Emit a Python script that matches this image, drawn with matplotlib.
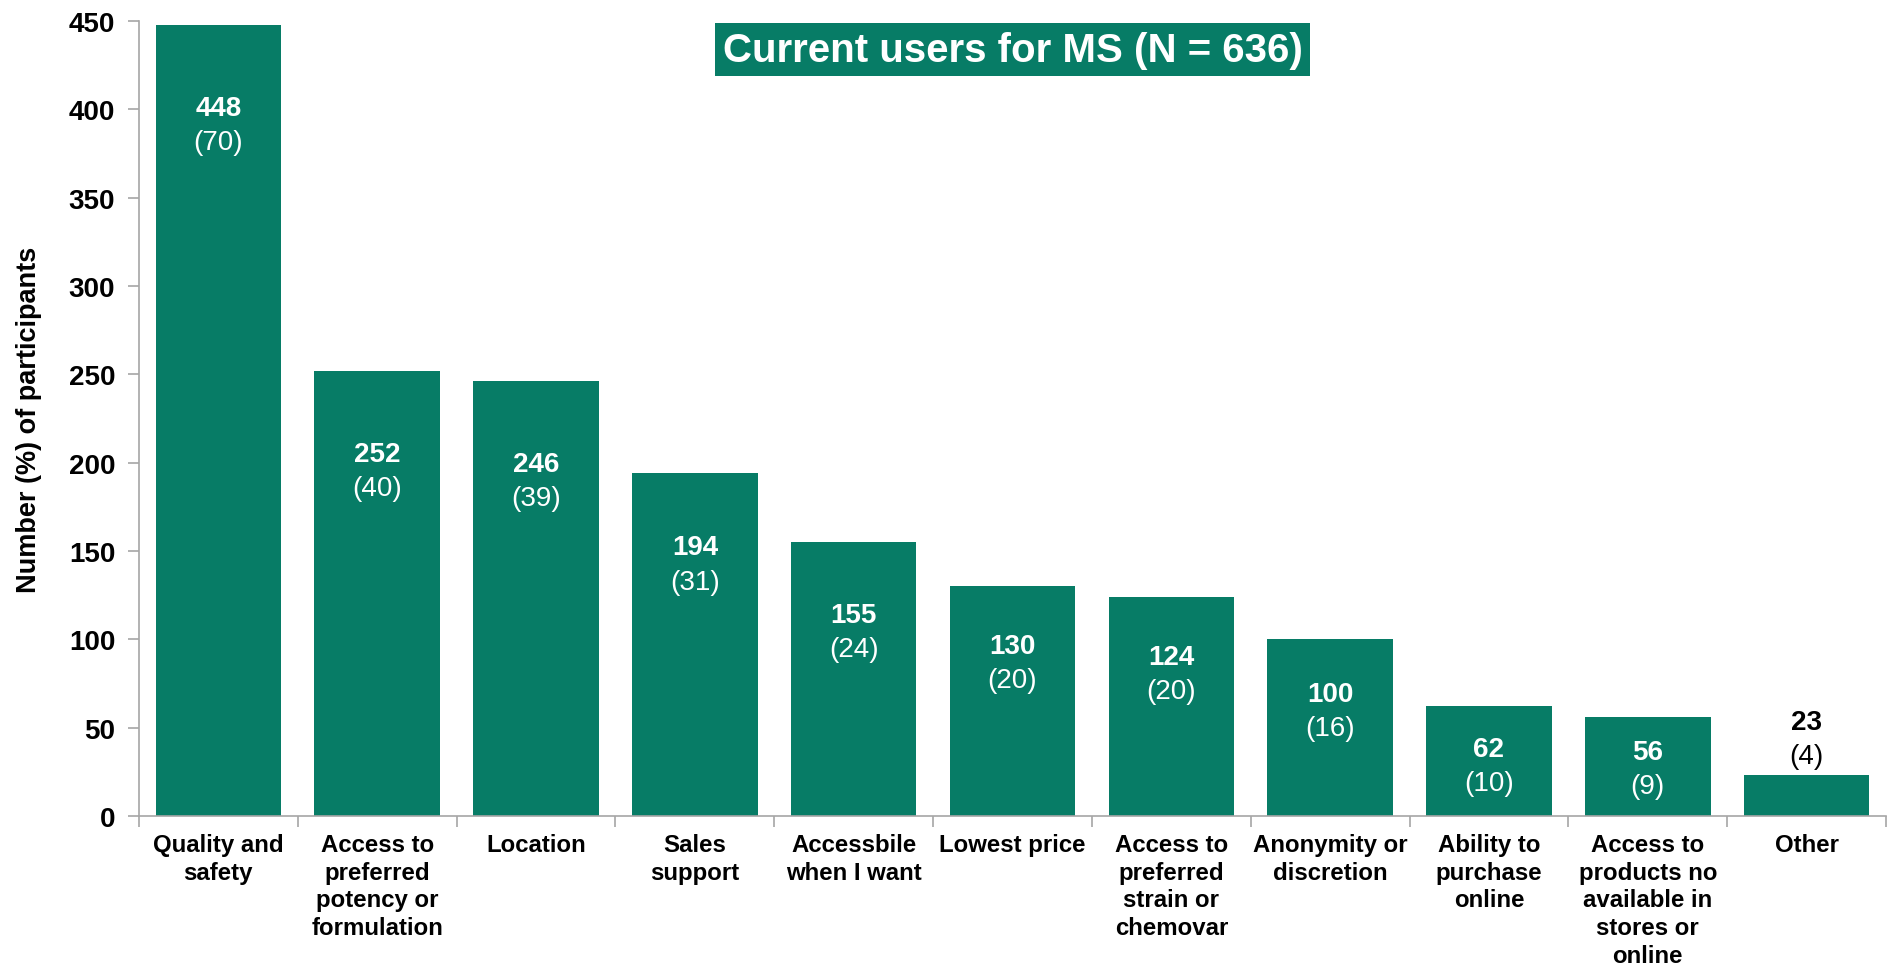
import matplotlib
matplotlib.use("Agg")
import matplotlib.pyplot as plt
import numpy as np

plt.rcParams['font.family'] = ['Liberation Sans', 'DejaVu Sans']

# data
categories = ["Quality and\nsafety", "Access to\npreferred\npotency or\nformulation", "Location",
              "Sales\nsupport", "Accessbile\nwhen I want", "Lowest price",
              "Access to\npreferred\nstrain or\nchemovar", "Anonymity or\ndiscretion",
              "Ability to\npurchase\nonline", "Access to\nproducts no\navailable in\nstores or\nonline",
              "Other"]
counts = [448, 252, 246, 194, 155, 130, 124, 100, 62, 56, 23]
percents = [70, 40, 39, 31, 24, 20, 20, 16, 10, 9, 4]
# where the count label sits (value axis units)
label_y = [401, 205, 199, 152, 114, 96, 90, 69, 38, 36, 53]

title = "Current users for MS (N = 636)"
green = "#077c66"
gray = "#a6a6a6"

fig = plt.figure(figsize=(18.98, 9.70), dpi=100)
ax = fig.add_axes([0.0732, 0.1577, 0.9205, 0.8196])

x = np.arange(len(categories))
ax.bar(x, counts, width=0.79, color=green, zorder=2)

for xi, c, p, ly in zip(x, counts, percents, label_y):
    col = "white" if ly < c else "black"
    ax.text(xi, ly, str(c), ha="center", va="center", fontsize=20,
            fontweight="bold", color=col, zorder=3)
    ax.annotate("(%d)" % p, (xi, ly), xytext=(0, -24.5), textcoords="offset points",
                ha="center", va="center", fontsize=20, color=col, zorder=3)

ax.set_xlim(-0.5, len(categories) - 0.5)
ax.set_ylim(0, 450)
ax.set_yticks(np.arange(0, 451, 50))
ax.set_yticklabels([str(v) for v in range(0, 451, 50)], fontsize=20, fontweight="bold")
ax.set_xticks(x)
ax.set_xticklabels(categories, fontsize=17.3, fontweight="bold", va="top", linespacing=1.27)
ax.set_xticks(np.arange(-0.5, len(categories), 1), minor=True)
ax.tick_params(axis="x", which="major", length=0, pad=12)
ax.tick_params(axis="x", which="minor", length=8, width=1.2, color=gray, direction="out")
ax.tick_params(axis="y", length=8, width=1.2, color=gray, direction="out", pad=9)

for s in ["top", "right"]:
    ax.spines[s].set_visible(False)
for s in ["left", "bottom"]:
    ax.spines[s].set_color(gray)
    ax.spines[s].set_linewidth(1.2)

ax.set_ylabel("Number (%) of participants", fontsize=19.5, fontweight="bold", labelpad=19)

ax.text(0.5, 0.964, title, transform=ax.transAxes, ha="center", va="center",
        fontsize=29, fontweight="bold", color="white", zorder=4,
        bbox=dict(boxstyle="square,pad=0.18", facecolor=green, edgecolor="none"))

fig.savefig("out.png", dpi=100)
